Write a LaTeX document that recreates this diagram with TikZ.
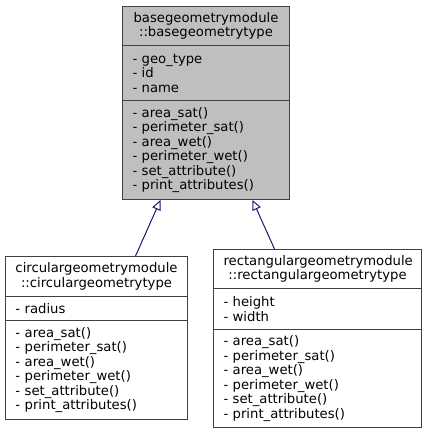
\documentclass[tikz,border=0pt]{standalone}
\usepackage{fontspec}
\setmainfont{DejaVu Sans}
\usetikzlibrary{arrows.meta}
\definecolor{box_gray}{RGB}{191,191,191}
\definecolor{edge_gray}{RGB}{64,64,64}
\definecolor{edge_blue}{RGB}{25,25,112}

\begin{document}
\begin{tikzpicture}[x=1pt,y=-1pt,line width=1pt,>={Triangle[open,length=10pt,width=9pt]}]
    \tikzstyle{part}=[draw=edge_gray, rectangle, anchor=north west, inner xsep=10pt, inner ysep=0pt, font=\fontsize{13.2}{14.5}\selectfont, text=black, align=left]
    \tikzstyle{base}=[style=part, fill=box_gray, text width=147pt]
    \tikzstyle{circ}=[style=part, fill=white, text width=162pt]
    \tikzstyle{rect}=[style=part, fill=white, text width=188pt]
    \tikzstyle{title}=[align=center]
    \tikzstyle{inherit}=[->, draw=edge_blue]

    \useasboundingbox (0,0) rectangle (426,433);

    % base class
    \node[base,title,minimum height=39pt] (baseTitle) at (122,6)   {basegeometrymodule\\::basegeometrytype};
    \node[base,minimum height=55pt]       (baseAttr)  at (122,45)  {- geo\_type\\- id\\- name};
    \node[base,minimum height=99pt]       (baseMeth)  at (122,100) {- area\_sat()\\- perimeter\_sat()\\- area\_wet()\\- perimeter\_wet()\\- set\_attribute()\\- print\_attributes()};

    % circular
    \node[circ,title,minimum height=40pt] (circTitle) at (5,256)   {circulargeometrymodule\\::circulargeometrytype};
    \node[circ,minimum height=24pt]       (circAttr)  at (5,296)   {- radius};
    \node[circ,minimum height=99pt]       (circMeth)  at (5,320)   {- area\_sat()\\- perimeter\_sat()\\- area\_wet()\\- perimeter\_wet()\\- set\_attribute()\\- print\_attributes()};

    % rectangular
    \node[rect,title,minimum height=39pt] (rectTitle) at (213,249) {rectangulargeometrymodule\\::rectangulargeometrytype};
    \node[rect,minimum height=41pt]       (rectAttr)  at (213,288) {- height\\- width};
    \node[rect,minimum height=98pt]       (rectMeth)  at (213,329) {- area\_sat()\\- perimeter\_sat()\\- area\_wet()\\- perimeter\_wet()\\- set\_attribute()\\- print\_attributes()};

    \path
     ([xshift=39pt]circTitle.north)  edge[inherit] ([xshift=-45.5pt]baseMeth.south)
     ([xshift=-43pt]rectTitle.north) edge[inherit] ([xshift=46.5pt]baseMeth.south)
     ;
\end{tikzpicture}
\end{document}
